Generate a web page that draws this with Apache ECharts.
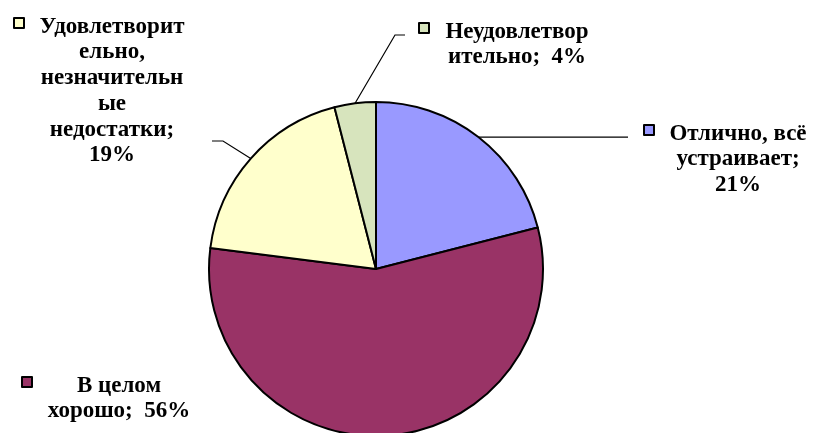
<!DOCTYPE html>
<html><head><meta charset="utf-8">
<script src="https://cdn.jsdelivr.net/npm/echarts@6/dist/echarts.min.js"></script>
<style>html,body{margin:0;padding:0;background:#fff}#c{width:813px;height:433px}</style>
</head><body><div id="c"></div>
<script>
const categories = ['Отлично, всё устраивает', 'В целом хорошо', 'Удовлетворительно, незначительные недостатки', 'Неудовлетворительно'];
const values = [21, 56, 19, 4];
const colors = ['#9999FF', '#993366', '#FFFFCC', '#D7E4BD'];
const labelTexts = [
  'Отлично, всё\nустраивает;\n21%',
  'В целом\nхорошо;  56%',
  'Удовлетворит\nельно,\nнезначительн\nые\nнедостатки;\n19%',
  'Неудовлетвор\nительно;  4%'
];
// layout only: label block centre/top, legend key position, leader elbow & end
const labelPos = [[738, 121], [119, 373], [112, 14], [517, 19]];
const keyPos = [[643, 124], [21, 376], [13, 17], [418, 22]];
const leaderElbow = [null, null, [223, 141], [395, 35]];
const leaderEndX = [628, null, 212, 405];

const chart = echarts.init(document.getElementById('c'));
const legends = categories.map((n, i) => ({
  data: [n], left: keyPos[i][0], top: keyPos[i][1], icon: 'rect',
  itemWidth: 10, itemHeight: 10, itemGap: 0, padding: 0,
  formatter: () => '', selectedMode: false,
  itemStyle: { borderColor: '#000', borderWidth: 2 }
}));
chart.setOption({
  animation: false,
  backgroundColor: '#fff',
  color: colors,
  legend: legends,
  series: [{
    type: 'pie',
    center: [376, 269],
    radius: 167,
    startAngle: 90,
    clockwise: true,
    itemStyle: { borderColor: '#000', borderWidth: 2 },
    label: {
      show: true,
      formatter: p => labelTexts[p.dataIndex],
      fontFamily: '"Liberation Serif", "Times New Roman", serif',
      fontWeight: 'bold', fontSize: 23, lineHeight: 25.7, color: '#000', align: 'center'
    },
    labelLine: { show: true, lineStyle: { color: '#000', width: 1.2 }, length: 20, length2: 20 },
    labelLayout: p => {
      const i = p.dataIndex;
      const out = { x: labelPos[i][0], y: labelPos[i][1], align: 'center', verticalAlign: 'top' };
      const lp = p.labelLinePoints;
      if (lp && lp.length && leaderEndX[i] != null) {
        const p0 = lp[0];
        const el = leaderElbow[i] || [leaderEndX[i], p0[1]];
        out.labelLinePoints = [p0, el, [leaderEndX[i], el[1]]];
      }
      return out;
    },
    data: categories.map((n, i) => ({ name: n, value: values[i], labelLine: { show: i !== 1 } }))
  }]
});
</script></body></html>
